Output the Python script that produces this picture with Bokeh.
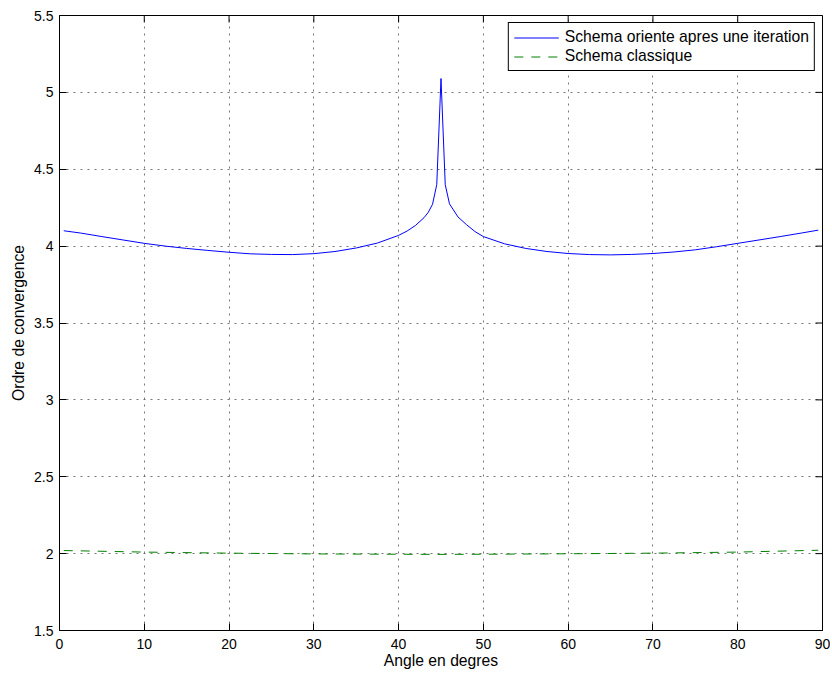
import math
from bokeh.plotting import figure
from bokeh.models import FixedTicker, Range1d
from bokeh.embed import file_html
from bokeh.resources import INLINE

# ---- data ----
angle_oriented = [0.5, 2.5, 5, 7.5, 10, 12.5, 15, 17.5, 20, 22.5, 25, 27.5, 30, 32.5,
                  35, 37.5, 40, 41, 42, 43, 43.5, 44, 44.5, 45, 45.5, 46, 47, 48, 49,
                  50, 52.5, 55, 57.5, 60, 62.5, 65, 67.5, 70, 72.5, 75, 77.5, 80,
                  82.5, 85, 87.5, 89.5]
order_oriented = [4.100, 4.085, 4.062, 4.040, 4.018, 4.000, 3.985, 3.972, 3.960, 3.950,
                  3.946, 3.945, 3.951, 3.965, 3.988, 4.020, 4.070, 4.098, 4.135, 4.185,
                  4.220, 4.272, 4.400, 5.090, 4.400, 4.275, 4.190, 4.140, 4.095,
                  4.062, 4.015, 3.985, 3.965, 3.952, 3.945, 3.943, 3.946, 3.952, 3.962,
                  3.976, 3.996, 4.018, 4.040, 4.062, 4.085, 4.104]

angle_classic = [0.5, 10, 20, 30, 40, 45, 50, 60, 70, 80, 89.5]
order_classic = [2.020, 2.010, 2.003, 1.998, 1.996, 1.995, 1.996, 1.999, 2.003, 2.010, 2.022]

x_ticks = [0, 10, 20, 30, 40, 50, 60, 70, 80, 90]
y_ticks = [1.5, 2, 2.5, 3, 3.5, 4, 4.5, 5, 5.5]
y_tick_labels = ["1.5", "2", "2.5", "3", "3.5", "4", "4.5", "5", "5.5"]

label_oriented = "Schema oriente apres une iteration"
label_classic = "Schema classique"
x_title = "Angle en degres"
y_title = "Ordre de convergence"

FONT = "Liberation Sans"
X_MIN, X_MAX = 0, 90
Y_MIN, Y_MAX = 1.5, 5.5

p = figure(width=830, height=671, output_backend="svg", toolbar_location=None,
           x_range=Range1d(X_MIN, X_MAX), y_range=Range1d(Y_MIN, Y_MAX),
           min_border_left=59, min_border_right=8, min_border_top=15, min_border_bottom=30)
p.background_fill_color = "white"
p.border_fill_color = "white"
p.outline_line_color = "black"
p.outline_line_width = 1
p.outline_line_alpha = 1

# grid
for g in (p.xgrid[0], p.ygrid[0]):
    g.grid_line_color = "#555555"
    g.grid_line_dash = "2 5"
    g.grid_line_width = 1
    g.grid_line_alpha = 0.8
p.xgrid.ticker = FixedTicker(ticks=x_ticks)
p.ygrid.ticker = FixedTicker(ticks=y_ticks)

p.line(angle_oriented, order_oriented, line_color="#0000ff", line_width=1, legend_label=label_oriented)
p.line(angle_classic, order_classic, line_color="#008000", line_width=1, line_dash="9 8",
       legend_label=label_classic)

# inward tick marks on the top and right edges of the box
p.ray(x=x_ticks, y=[Y_MAX] * len(x_ticks), length=7, length_units="screen",
      angle=-math.pi / 2, line_color="black", line_width=1)
p.ray(x=[X_MAX] * len(y_ticks), y=y_ticks, length=7, length_units="screen",
      angle=math.pi, line_color="black", line_width=1)

# axes
for ax in (p.xaxis[0], p.yaxis[0]):
    ax.axis_line_color = "black"
    ax.major_tick_in = 7
    ax.major_tick_out = 0
    ax.major_tick_line_color = "black"
    ax.minor_tick_line_color = None
    ax.major_label_text_font = FONT
    ax.major_label_text_font_size = "14px"
    ax.major_label_text_color = "black"
    ax.axis_label_text_font = FONT
    ax.axis_label_text_font_size = "15.7px"
    ax.axis_label_text_font_style = "normal"
    ax.axis_label_text_color = "black"

p.xaxis.ticker = FixedTicker(ticks=x_ticks)
p.yaxis.ticker = FixedTicker(ticks=y_ticks)
p.yaxis.major_label_overrides = {t: l for t, l in zip(y_ticks, y_tick_labels)}
p.xaxis.axis_label = x_title
p.yaxis.axis_label = y_title
p.xaxis.major_label_standoff = 8
p.xaxis.axis_label_standoff = 0
p.yaxis.major_label_standoff = 6
p.yaxis.axis_label_standoff = 4

# legend
lg = p.legend[0]
lg.location = "top_right"
lg.margin = 7
lg.border_line_color = "black"
lg.border_line_width = 1
lg.border_line_alpha = 1
lg.background_fill_color = "white"
lg.background_fill_alpha = 1
lg.label_text_font = FONT
lg.label_text_font_size = "15.7px"
lg.label_text_color = "black"
lg.glyph_width = 45
lg.glyph_height = 15
lg.label_height = 15
lg.label_standoff = 6
lg.spacing = 1
lg.padding = 5

open("out.html", "w").write(file_html(p, INLINE))
